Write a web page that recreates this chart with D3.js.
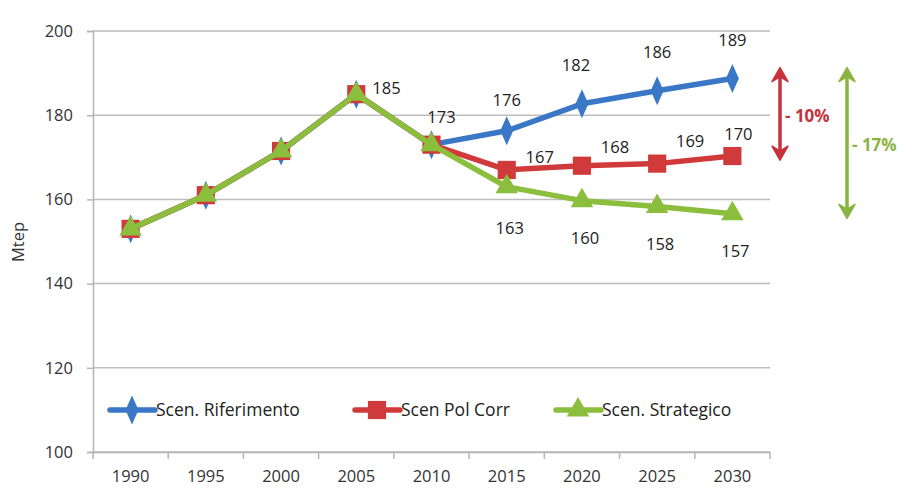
<!DOCTYPE html>
<html><head><meta charset="utf-8">
<script src="https://cdn.jsdelivr.net/npm/d3@7"></script>
<style>
body{margin:0;background:#fff;}
text{font-family:"Open Sans","Noto Sans",sans-serif;}
</style></head>
<body><svg id="c" width="905" height="495"></svg>
<script>
const years = ["1990","1995","2000","2005","2010","2015","2020","2025","2030"];
const riferimento = [153,161,171.5,185,173,176.3,182.7,185.8,188.7];
const polCorr = [153,161,171.5,185,173,167,168,168.5,170.3];
const strategico = [153,161,171.5,185,173,163,159.7,158.3,156.6];
const yTicks = [100,120,140,160,180,200];
const seriesNames = ["Scen. Riferimento","Scen Pol Corr","Scen. Strategico"];
const colors = ["#3a77c6","#d03a3a","#8cbe3e"];
const labelsRif = [[5,"176"],[6,"182"],[7,"186"],[8,"189"]];
const labelsPol = [[5,"167"],[6,"168"],[7,"169"],[8,"170"]];
const labelsStr = [[5,"163"],[6,"160"],[7,"158"],[8,"157"]];
const labelsHist = [[3,"185"],[4,"173"]];
const deltas = [{text:"- 10%", color:"#c8323a", from:191.3, to:169.3},{text:"- 17%", color:"#8ab43f", from:191.3, to:155.5}];

const svg = d3.select("#c");
const x = d3.scaleBand().domain(years).range([93,770]);
const y = d3.scaleLinear().domain([100,200]).range([452,31]);
const xc = d => x(d)+x.bandwidth()/2;

svg.append("g").selectAll("line").data(yTicks).join("line")
  .attr("x1",93).attr("x2",770).attr("y1",d=>y(d)).attr("y2",d=>y(d))
  .attr("stroke","#bdbdbd").attr("stroke-width",1.5);

const ya = svg.append("g").attr("transform","translate(93,0)").call(d3.axisLeft(y).tickValues(yTicks).tickSize(6).tickPadding(14));
ya.select(".domain").attr("stroke","#b5b5b5").attr("stroke-width",1.5);
ya.selectAll(".tick line").attr("stroke","#b5b5b5").attr("stroke-width",1.5);
ya.selectAll("text").attr("font-size",16.5).attr("fill","#333").style("font-family","'Open Sans',sans-serif");

const xa = svg.append("g").attr("transform","translate(0,452)").call(d3.axisBottom(x).tickSize(0).tickPadding(18));
xa.select(".domain").attr("stroke","#b5b5b5").attr("stroke-width",1.5);
xa.selectAll("text").attr("font-size",16.5).attr("fill","#333").style("font-family","'Open Sans',sans-serif");
svg.append("g").selectAll("line").data(years.concat(["end"])).join("line")
  .attr("x1",(d,i)=>93+i*x.step()).attr("x2",(d,i)=>93+i*x.step())
  .attr("y1",452).attr("y2",459).attr("stroke","#b5b5b5").attr("stroke-width",1.5);

svg.append("text").attr("transform","translate(24,242) rotate(-90)").attr("text-anchor","middle")
  .attr("font-size",16.5).attr("fill","#333").text("Mtep");

const line = d3.line().x((d,i)=>xc(years[i])).y(d=>y(d));
const allSeries = [riferimento, polCorr, strategico];
const symbols = [d3.symbolDiamond, d3.symbolSquare, d3.symbolTriangle];
const symSize = [200, 330, 220];
const symTf = ["scale(0.85,1.1)","",""];

allSeries.forEach((s,k)=>{
  svg.append("path").datum(s).attr("d",line).attr("fill","none")
    .attr("stroke",colors[k]).attr("stroke-width",5.5).attr("stroke-linejoin","round");
  svg.append("g").selectAll("path").data(s).join("path")
    .attr("transform",(d,i)=>`translate(${xc(years[i])},${y(d)}) ${symTf[k]}`)
    .attr("d",d3.symbol().type(symbols[k]).size(symSize[k])).attr("fill",colors[k]);
});

const lab = (arr, series, dxf, dyf, anchor) => svg.append("g").selectAll("text").data(arr).join("text")
  .attr("x",(d,i)=>xc(years[d[0]])+dxf(i)).attr("y",(d,i)=>y(series[d[0]])+dyf(i))
  .attr("text-anchor",anchor||"middle").attr("font-size",16.5).attr("fill","#222").text(d=>d[1]);
lab(labelsRif, riferimento, i=>i===1?-6:0, i=>i===0?-25:-33);
lab(labelsPol, polCorr, i=>i===3?6:33, i=>[-7,-13,-17,-16][i]);
lab(labelsStr, strategico, i=>3, i=>i===0?47:43);
lab([labelsHist[0]], riferimento, ()=>16, ()=>0, "start");
lab([labelsHist[1]], riferimento, ()=>10, ()=>-22);

const lg = svg.append("g");
const legX = [110,355,556];
seriesNames.forEach((n,k)=>{
  const g = lg.append("g").attr("transform",`translate(${legX[k]},410)`);
  g.append("line").attr("x1",0).attr("x2",45).attr("stroke",colors[k]).attr("stroke-width",5.5).attr("stroke-linecap","round");
  g.append("path").attr("transform","translate(22,0) "+symTf[k])
    .attr("d",d3.symbol().type(symbols[k]).size(symSize[k])).attr("fill",colors[k]);
  g.append("text").attr("x",46).attr("y",6).attr("font-size",17.5).attr("fill","#222").text(n);
});

const ax = [780, 847];
const tx = [785, 852], ty = [122, 151];
deltas.forEach((d,k)=>{
  const y1 = y(d.from), y2 = y(d.to);
  const g = svg.append("g");
  g.append("line").attr("x1",ax[k]).attr("x2",ax[k]).attr("y1",y1+6).attr("y2",y2-6)
    .attr("stroke",d.color).attr("stroke-width",3.5);
  g.append("path").attr("d",`M${ax[k]},${y1} L${ax[k]-8},${y1+14} L${ax[k]},${y1+9} L${ax[k]+8},${y1+14} Z`)
    .attr("fill",d.color).attr("stroke",d.color).attr("stroke-width",1.5).attr("stroke-linejoin","round");
  g.append("path").attr("d",`M${ax[k]},${y2} L${ax[k]-8},${y2-14} L${ax[k]},${y2-9} L${ax[k]+8},${y2-14} Z`)
    .attr("fill",d.color).attr("stroke",d.color).attr("stroke-width",1.5).attr("stroke-linejoin","round");
  svg.append("text").attr("x",tx[k]).attr("y",ty[k]).attr("font-size",17).attr("font-weight","bold")
    .attr("fill",d.color).text(d.text);
});
</script></body></html>
